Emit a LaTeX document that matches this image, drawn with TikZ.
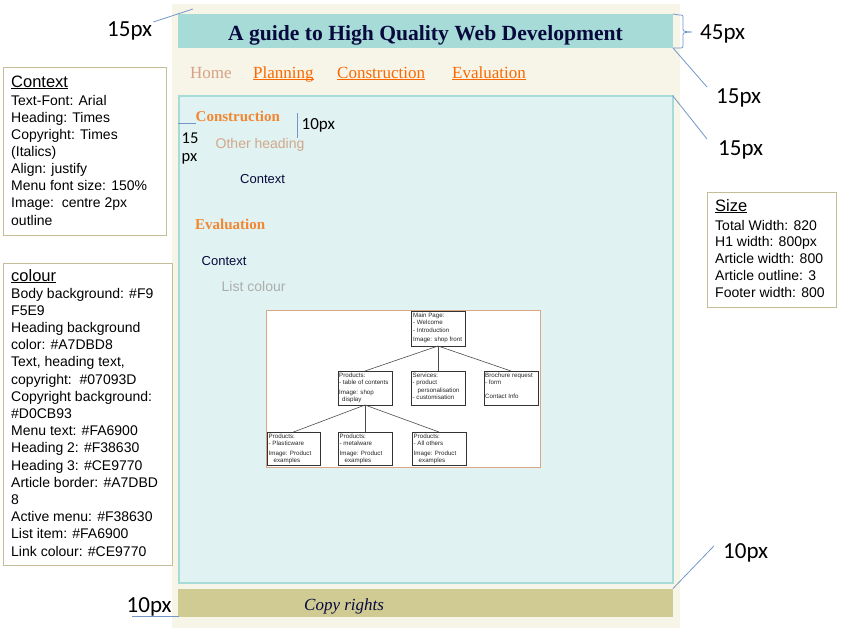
\documentclass[tikz,border=0pt]{standalone}
\usepackage{fontspec}
\setmainfont{Liberation Serif}
\setsansfont{Liberation Sans}
\newfontfamily\notefont{Carlito}
\definecolor{bodybg}{HTML}{F7F4E8}
\definecolor{headbg}{HTML}{A7DBD8}
\definecolor{inktext}{HTML}{07093D}
\definecolor{footbg}{HTML}{D0CB93}
\definecolor{menutext}{HTML}{FA6900}
\definecolor{headtwo}{HTML}{F38630}
\definecolor{headthree}{HTML}{CE9770}
\definecolor{articlebg}{HTML}{E0F2F1}
\definecolor{notestroke}{HTML}{7396C8}
\definecolor{boxrule}{HTML}{C4BD97}
\definecolor{listgrey}{HTML}{ADADAD}
\definecolor{homecol}{HTML}{D6A283}
\definecolor{otherhead}{HTML}{D1A88A}
\definecolor{frameline}{HTML}{D8A884}
\tikzset{
  panel/.style={anchor=north west, inner sep=0pt, outer sep=0pt},
  anno/.style={draw=notestroke, line width=0.8pt},
  notelabel/.style={font=\notefont\fontsize{23}{26}\selectfont, inner sep=0pt, anchor=base west},
  innerlabel/.style={font=\notefont\fontsize{17}{19}\selectfont, inner sep=0pt, anchor=base west},
  infobox/.style={panel, draw=boxrule, line width=0.9pt, fill=white},
  infohead/.style={font=\sffamily\fontsize{16.5}{19}\selectfont, inner sep=0pt, anchor=base west},
  infoline/.style={font=\sffamily\fontsize{14}{17}\selectfont, inner sep=0pt, anchor=base west},
  menulink/.style={font=\fontsize{17}{20}\selectfont, text=menutext, inner sep=0pt, anchor=base west},
  menuline/.style={draw=menutext, line width=0.8pt},
  sectionhead/.style={font=\bfseries\fontsize{15}{18}\selectfont, text=headtwo, inner sep=0pt, anchor=base west},
  bodytext/.style={font=\sffamily\fontsize{13}{16}\selectfont, text=inktext, inner sep=0pt, anchor=base west},
  mapbox/.style={panel, draw=black!80, line width=0.6pt, fill=white},
  maptext/.style={font=\sffamily\fontsize{6.2}{7.2}\selectfont, text=black!85, align=left, inner sep=0pt, anchor=north west},
  mapline/.style={draw=black!70, line width=0.6pt}
}
\begin{document}
\begin{tikzpicture}[x=1pt, y=-1pt]
\useasboundingbox (0,0) rectangle (855,637);

% page layout
\node[panel, fill=bodybg, minimum width=508, minimum height=624] (page) at (172,4) {};
\node[panel, fill=headbg, minimum width=495, minimum height=34] (header) at (178,14) {};
\node[font=\bfseries\fontsize{21.6}{24}\selectfont, text=inktext, inner sep=0pt, anchor=base] (title) at (425.5,40) {A guide to High Quality Web Development};

% menu
\node[font=\fontsize{17}{20}\selectfont, text=homecol, inner sep=0pt, anchor=base west] (home) at (190,78) {Home};
\node[menulink] (plan) at (253,78) {Planning};
\node[menulink] (cons) at (337,78) {Construction};
\node[menulink] (eval) at (452,78) {Evaluation};
\foreach \m in {plan,cons,eval}
  \draw[menuline] ([yshift=-1.8pt]\m.base west) -- ([yshift=-1.8pt]\m.base east);

% article
\node[panel, fill=articlebg, draw=headbg, line width=2pt, minimum width=494, minimum height=487] (article) at (178.5,95.5) {};
\node[sectionhead] (hcons) at (195.5,121) {Construction};
\node[font=\sffamily\fontsize{14}{17}\selectfont, text=otherhead, inner sep=0pt, anchor=base west] (other) at (215.5,148) {Other heading};
\node[bodytext] (ctxa) at (240,183) {Context};
\node[sectionhead] (heval) at (195,229) {Evaluation};
\node[bodytext] (ctxb) at (201.5,265) {Context};
\node[font=\sffamily\fontsize{14}{17}\selectfont, text=listgrey, inner sep=0pt, anchor=base west] (listc) at (221.5,291) {List colour};

% site map picture
\node[panel, draw=frameline, line width=1pt, fill=white, minimum width=274, minimum height=157] (sitemap) at (266,310) {};
\node[mapbox, minimum width=54, minimum height=35] (mainpg) at (411,311) {};
\node[mapbox, minimum width=54, minimum height=34] (prod) at (338,371) {};
\node[mapbox, minimum width=54, minimum height=34] (serv) at (411,371) {};
\node[mapbox, minimum width=54, minimum height=34] (broch) at (484,371) {};
\node[mapbox, minimum width=53, minimum height=33] (plast) at (267,432) {};
\node[mapbox, minimum width=54, minimum height=33] (metal) at (338,432) {};
\node[mapbox, minimum width=54, minimum height=33] (others) at (412,432) {};
\node[maptext] (mainpg-t) at ([xshift=2pt,yshift=-2pt]mainpg.north west) {Main Page:\\- Welcome\\- Introduction\\[2.5pt]Image: shop front};
\node[maptext] (prod-t) at ([xshift=1pt,yshift=-2pt]prod.north west) {Products:\\- table of contents\\[2.5pt]Image: shop\\\hspace*{3pt}display};
\node[maptext] (serv-t) at ([xshift=1.5pt,yshift=-2pt]serv.north west) {Services:\\- product\\\hspace*{5pt}personalisation\\- customisation};
\node[maptext] (broch-t) at ([xshift=1pt,yshift=-2pt]broch.north west) {Brochure request\\- form\\[6pt]Contact Info};
\node[maptext] (plast-t) at ([xshift=1.5pt,yshift=-2pt]plast.north west) {Products:\\ - Plasticware\\[2.5pt]Image: Product\\\hspace*{5pt}examples};
\node[maptext] (metal-t) at ([xshift=1.5pt,yshift=-2pt]metal.north west) {Products:\\ - metalware\\[2.5pt]Image: Product\\\hspace*{5pt}examples};
\node[maptext] (others-t) at ([xshift=1.5pt,yshift=-2pt]others.north west) {Products:\\ - All others\\[2.5pt]Image: Product\\\hspace*{5pt}examples};
\draw[mapline] (mainpg.south) -- (prod.north);
\draw[mapline] (mainpg.south) -- (serv.north);
\draw[mapline] (mainpg.south) -- (broch.north);
\draw[mapline] (prod.south) -- (plast.north);
\draw[mapline] (prod.south) -- (metal.north);
\draw[mapline] (prod.south) -- (others.north);

% footer
\node[panel, fill=footbg, minimum width=495, minimum height=28] (footer) at (178,588.5) {};
\node[font=\itshape\fontsize{17}{20}\selectfont, text=inktext, inner sep=0pt, anchor=base west] (copy) at (304,610) {Copy rights};

% measurement notes
\node[notelabel] (mtop) at (107,36) {15px};
\coordinate (mtop-end) at (193,9);
\draw[anno] ([xshift=1pt,yshift=-1pt]mtop.north east) -- (mtop-end);

\node[notelabel] (mhead) at (700,39) {45px};
\draw[anno] (header.north east) -- (679,15) .. controls (683,15) .. (683,19) -- (683,28)
  .. controls (683,31.5) .. (692,32) .. controls (683,32.5) .. (683,36) -- (683,44)
  .. controls (683,48) .. (679,48) -- (header.south east);

\node[notelabel] (mmenu) at (716,103) {15px};
\draw[anno] (header.south east) -- ([xshift=-9pt,yshift=1pt]mmenu.north west);

\node[notelabel] (mart) at (718,155) {15px};
\draw[anno] (article.north east) -- ([xshift=-11pt,yshift=1pt]mart.north west);

\node[notelabel] (mfoot) at (723,558) {10px};
\draw[anno] (footer.north east) -- ([xshift=-9pt,yshift=-3pt]mfoot.north west);

\node[notelabel] (mbottom) at (126.5,612) {10px};
\coordinate (mbottom-end) at (179,616);
\draw[anno] (132,616) -- (mbottom-end);

\node[innerlabel, font=\notefont\fontsize{16.5}{19}\selectfont] (mleft) at (181.5,143) {15};
\node[innerlabel, font=\notefont\fontsize{16.5}{19}\selectfont] (mleftpx) at (181.5,161) {px};
\coordinate (mleft-a) at (177.5,123);
\coordinate (mleft-b) at (196,123);
\draw[anno] (mleft-a) -- (mleft-b);

\node[innerlabel] (mgap) at (301.5,129) {10px};
\coordinate (mgap-a) at (297,113);
\coordinate (mgap-b) at (297,138);
\draw[anno] (mgap-a) -- (mgap-b);

% Context panel
\node[infobox, minimum width=163, minimum height=168] (ctxbox) at (3,67) {};
\node[infohead] (ctxhead) at (11,87) {\underline{Context}};
\foreach \txt [count=\i] in {Text-Font: Arial, Heading: Times, Copyright: Times, (Italics), Align: justify, Menu font size: 150\%, Image:\ \ centre 2px, outline}
  \node[infoline] (ctx\i) at (11,{105+17.15*(\i-1)}) {\txt};

% colour panel
\node[infobox, minimum width=169, minimum height=302] (colbox) at (3,263) {};
\node[infohead] (colhead) at (11,281) {\underline{colour}};
\foreach \txt [count=\i] in {Body background: \#F9, F5E9, Heading background, color: \#A7DBD8, {Text, heading text,}, copyright:\ \ \#07093D, Copyright background:, \#D0CB93, Menu text: \#FA6900, Heading 2: \#F38630, Heading 3: \#CE9770, Article border: \#A7DBD, 8, Active menu: \#F38630, List item: \#FA6900, Link colour: \#CE9770}
  \node[infoline] (col\i) at (11,{298+17.2*(\i-1)}) {\txt};

% size panel
\node[infobox, minimum width=129, minimum height=115] (sizebox) at (707,192) {};
\node[infohead] (sizehead) at (715,211) {\underline{Size}};
\foreach \txt [count=\i] in {Total Width: 820, H1 width: 800px, Article width: 800, Article outline: 3, Footer width: 800}
  \node[infoline] (size\i) at (715,{230+16.9*(\i-1)}) {\txt};
\end{tikzpicture}
\end{document}
